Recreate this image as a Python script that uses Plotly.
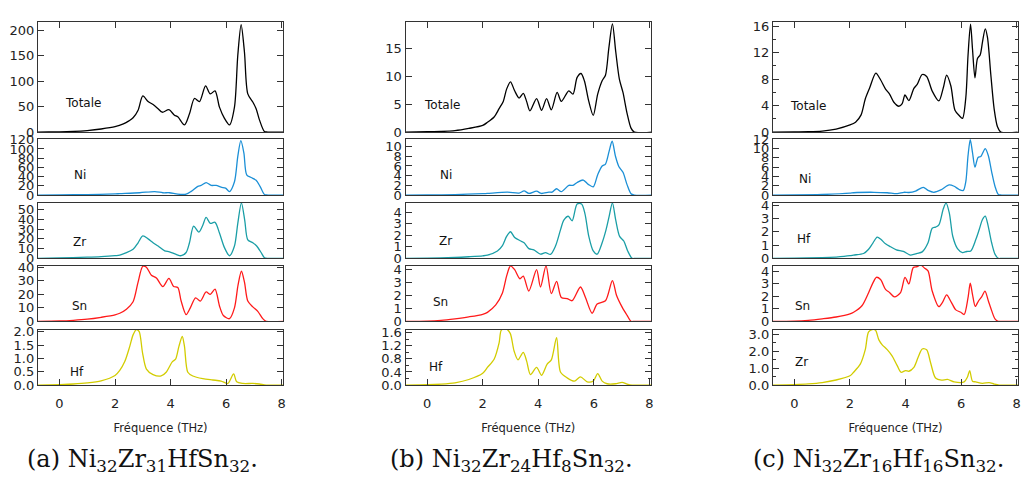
import plotly.graph_objects as go
from plotly.subplots import make_subplots

# ---- (a) Ni32Zr31HfSn32 ----
a_tot_x = [-0.8, -0.4, 0, 0.5, 1.0, 1.5, 2.0, 2.3, 2.5, 2.65, 2.83, 3.0, 3.19, 3.37, 3.55, 3.7, 3.94, 4.14, 4.26, 4.5, 4.68, 4.86, 5.04, 5.26, 5.43, 5.6, 5.76, 5.94, 6.12, 6.3, 6.42, 6.54, 6.66, 6.78, 6.96, 7.08, 7.2, 7.38, 7.5, 8.1]
a_tot_y = [0, 0.1, 0.3, 1.2, 3, 6, 10.5, 16, 22, 28, 43, 71, 60, 54, 46, 39, 44, 33, 30, 14, 36, 66, 60, 91, 75, 81, 49, 27, 14, 49, 151, 211, 157, 75, 59, 46, 24, 1, 0, 0]
a_ni_x = [-0.8, 0, 1.0, 2.0, 2.17, 2.89, 3.43, 3.72, 3.96, 4.26, 4.56, 4.74, 4.98, 5.1, 5.28, 5.46, 5.64, 5.82, 5.98, 6.12, 6.3, 6.42, 6.53, 6.64, 6.74, 6.9, 7.08, 7.22, 7.38, 7.5, 8.1]
a_ni_y = [0, 0.4, 1.0, 2.5, 3, 5, 7.6, 5, 5, 2, 2, 8, 19, 21, 27, 21, 21, 17, 15, 7.6, 29, 84, 118, 91, 44, 38, 32, 19, 1.4, 0, 0]
a_zr_x = [-0.8, 0, 1.0, 1.5, 2.0, 2.17, 2.65, 2.83, 3.0, 3.19, 3.37, 3.55, 3.79, 3.96, 4.2, 4.38, 4.56, 4.68, 4.83, 5.02, 5.16, 5.28, 5.43, 5.6, 5.76, 5.94, 6.12, 6.3, 6.42, 6.55, 6.67, 6.78, 6.96, 7.1, 7.26, 7.38, 7.5, 8.1]
a_zr_y = [0, 0.4, 1.2, 1.8, 2.8, 3.3, 9.3, 16, 23, 20, 16, 12.7, 7.7, 6.7, 4, 2.7, 6, 16, 33, 27, 34, 42, 36, 37, 26, 11, 2.7, 12.7, 36, 57, 39, 19, 16, 12.7, 6, 0.7, 0, 0]
a_sn_x = [-0.8, 0, 0.5, 1.0, 1.5, 2.0, 2.17, 2.41, 2.65, 2.83, 3.0, 3.13, 3.31, 3.49, 3.72, 3.94, 4.11, 4.26, 4.38, 4.56, 4.71, 4.9, 5.07, 5.28, 5.43, 5.6, 5.76, 5.9, 6.12, 6.3, 6.43, 6.55, 6.66, 6.78, 6.96, 7.14, 7.32, 7.44, 8.1]
a_sn_y = [0, 0.3, 0.8, 1.6, 3.0, 4.8, 6, 9, 14.5, 29, 40.7, 40, 34, 32, 25.7, 31.7, 25.7, 25, 15, 5, 10, 17.4, 15, 21.7, 20, 23.8, 11.4, 4.3, 2, 10, 27, 37, 29, 15, 10.7, 7.4, 2, 0, 0]
a_hf_x = [-0.8, 0, 0.5, 1.0, 1.5, 2.0, 2.17, 2.35, 2.53, 2.65, 2.77, 2.87, 2.99, 3.13, 3.37, 3.66, 3.84, 4.06, 4.18, 4.3, 4.42, 4.5, 4.62, 4.8, 5.16, 5.52, 5.82, 6.06, 6.27, 6.38, 6.6, 6.96, 7.2, 7.44, 8.1]
a_hf_y = [0, 0.02, 0.04, 0.08, 0.16, 0.36, 0.55, 0.88, 1.45, 1.88, 2.08, 2.0, 1.21, 0.6, 0.39, 0.34, 0.48, 0.87, 0.97, 1.45, 1.82, 1.45, 0.48, 0.34, 0.24, 0.19, 0.15, 0.06, 0.42, 0.12, 0.06, 0.06, 0.04, 0, 0]

# ---- (b) Ni32Zr24Hf8Sn32 ----
b_tot_x = [-0.8, 0, 0.5, 1.0, 1.5, 2.0, 2.17, 2.41, 2.59, 2.74, 2.86, 3.0, 3.15, 3.31, 3.46, 3.58, 3.7, 3.94, 4.12, 4.3, 4.47, 4.68, 4.83, 5.1, 5.25, 5.4, 5.54, 5.66, 5.82, 5.98, 6.14, 6.3, 6.42, 6.54, 6.67, 6.79, 6.92, 7.05, 7.2, 7.34, 7.46, 8.1]
b_tot_y = [0, 0.05, 0.1, 0.25, 0.65, 1.2, 1.75, 2.7, 4.2, 5.5, 7.7, 9.0, 7.4, 6.1, 6.95, 5.5, 3.8, 6.0, 3.9, 6.0, 4.0, 7.1, 5.5, 7.4, 6.8, 9.8, 10.5, 9.2, 5.5, 3.0, 6.8, 9.2, 10.2, 15, 19.4, 14.4, 9.5, 7.1, 3.3, 0.7, 0, 0]
b_ni_x = [-0.8, 0, 1.0, 2.0, 2.17, 2.89, 3.31, 3.49, 3.66, 3.94, 4.11, 4.38, 4.5, 4.66, 4.83, 5.1, 5.25, 5.4, 5.62, 5.8, 5.98, 6.14, 6.3, 6.42, 6.55, 6.66, 6.78, 6.9, 7.05, 7.2, 7.34, 7.46, 8.1]
b_ni_y = [0, 0.02, 0.1, 0.28, 0.33, 0.6, 0.4, 0.85, 0.33, 0.8, 0.33, 0.6, 0.6, 1.3, 0.7, 2.0, 2.0, 2.6, 3.1, 2.2, 1.7, 4.2, 6.0, 6.4, 9.0, 11.1, 8.0, 5.9, 4.7, 2.1, 0.26, 0, 0]
b_zr_x = [-0.8, 0, 1.0, 1.5, 2.0, 2.17, 2.53, 2.71, 2.86, 3.0, 3.15, 3.37, 3.49, 3.66, 3.84, 4.08, 4.26, 4.44, 4.62, 4.8, 4.92, 5.08, 5.22, 5.4, 5.56, 5.68, 5.82, 5.98, 6.12, 6.3, 6.44, 6.55, 6.67, 6.79, 6.93, 7.08, 7.22, 7.38, 7.5, 8.1]
b_zr_y = [0, 0.02, 0.08, 0.14, 0.22, 0.28, 0.64, 1.1, 1.9, 2.3, 1.8, 1.5, 1.35, 0.84, 0.73, 0.36, 0.5, 0.34, 1.06, 2.46, 3.3, 3.64, 3.25, 4.7, 4.7, 3.87, 1.9, 0.64, 0.36, 1.35, 2.46, 3.6, 4.8, 3.3, 1.9, 1.5, 0.64, 0, 0, 0]
b_sn_x = [-0.8, 0, 0.5, 1.0, 1.5, 2.0, 2.17, 2.47, 2.71, 2.86, 3.0, 3.15, 3.34, 3.46, 3.66, 3.94, 4.08, 4.28, 4.47, 4.66, 4.83, 5.04, 5.22, 5.52, 5.7, 5.94, 6.12, 6.42, 6.67, 6.82, 7.02, 7.2, 7.34, 7.46, 8.1]
b_sn_y = [0, 0.02, 0.08, 0.2, 0.35, 0.55, 0.7, 1.27, 2.2, 3.5, 4.3, 4.0, 3.3, 3.5, 2.35, 4.0, 2.66, 4.3, 2.15, 3.1, 1.85, 1.77, 1.6, 2.66, 1.85, 0.63, 1.34, 1.6, 3.16, 2.0, 1.1, 0.46, 0, 0, 0]
b_hf_x = [-0.8, 0, 0.5, 1.0, 1.5, 2.0, 2.17, 2.41, 2.59, 2.67, 2.83, 2.99, 3.13, 3.27, 3.46, 3.58, 3.72, 3.94, 4.12, 4.32, 4.47, 4.66, 4.8, 5.04, 5.3, 5.52, 5.76, 5.98, 6.14, 6.3, 6.48, 6.78, 7.02, 7.2, 7.38, 8.1]
b_hf_y = [0, 0.01, 0.03, 0.07, 0.17, 0.36, 0.54, 0.79, 1.29, 1.68, 1.73, 1.58, 1.04, 0.77, 1.0, 0.74, 0.32, 0.54, 0.3, 0.64, 0.77, 1.45, 0.4, 0.22, 0.12, 0.25, 0.1, 0.12, 0.35, 0.12, 0.04, 0.04, 0.08, 0.03, 0, 0]

# ---- (c) Ni32Zr16Hf16Sn32 ----
c_tot_x = [-0.8, 0, 0.5, 1.0, 1.5, 2.0, 2.2, 2.4, 2.55, 2.71, 2.93, 3.1, 3.28, 3.43, 3.58, 3.76, 3.88, 3.98, 4.12, 4.3, 4.42, 4.6, 4.76, 4.96, 5.2, 5.36, 5.48, 5.63, 5.78, 5.93, 6.05, 6.17, 6.25, 6.34, 6.41, 6.5, 6.59, 6.69, 6.77, 6.87, 6.95, 7.07, 7.19, 7.31, 7.43, 8.1]
c_tot_y = [0, 0.03, 0.05, 0.15, 0.45, 1.07, 1.5, 2.6, 5.0, 6.7, 8.9, 7.9, 6.5, 5.7, 4.5, 3.9, 4.3, 5.6, 4.75, 6.6, 7.2, 8.7, 8.4, 6.2, 4.7, 6.7, 8.6, 7.0, 3.3, 2.5, 2.06, 5.2, 11.6, 16.3, 12.6, 8.2, 11.1, 11.7, 13.6, 15.6, 14.3, 8.7, 3.5, 0.8, 0, 0]
c_ni_x = [-0.8, 0, 1.0, 2.0, 2.13, 2.86, 3.34, 3.7, 3.94, 4.12, 4.36, 4.64, 4.81, 5.02, 5.27, 5.57, 5.75, 5.93, 6.08, 6.17, 6.25, 6.33, 6.41, 6.5, 6.61, 6.71, 6.87, 6.98, 7.1, 7.22, 7.34, 7.46, 8.1]
c_ni_y = [0, 0.02, 0.12, 0.4, 0.5, 0.6, 0.5, 0.3, 0.6, 0.55, 0.85, 1.67, 1.0, 0.6, 1.1, 2.2, 1.9, 1.2, 1.0, 2.9, 8.5, 11.9, 9.2, 6.0, 8.1, 8.3, 10.0, 8.5, 5.0, 1.9, 0.14, 0, 0]
c_hf_x = [-0.8, 0, 1.0, 1.5, 2.0, 2.13, 2.49, 2.67, 2.83, 2.98, 3.12, 3.28, 3.46, 3.67, 3.92, 4.18, 4.42, 4.6, 4.81, 4.96, 5.08, 5.2, 5.36, 5.46, 5.58, 5.7, 5.87, 6.05, 6.2, 6.35, 6.53, 6.65, 6.77, 6.87, 6.98, 7.1, 7.22, 7.34, 7.46, 8.1]
c_hf_y = [0, 0.01, 0.05, 0.1, 0.2, 0.25, 0.37, 0.69, 1.18, 1.6, 1.42, 1.1, 0.88, 0.64, 0.52, 0.25, 0.37, 0.49, 1.18, 2.28, 2.36, 2.53, 3.75, 4.2, 3.39, 1.67, 0.74, 0.44, 0.52, 0.56, 1.42, 2.16, 2.94, 3.2, 2.4, 1.18, 0.32, 0, 0, 0]
c_sn_x = [-0.8, 0, 0.5, 1.0, 1.5, 2.0, 2.13, 2.43, 2.67, 2.83, 2.95, 3.1, 3.28, 3.43, 3.6, 3.82, 3.98, 4.12, 4.28, 4.42, 4.54, 4.69, 4.81, 4.96, 5.2, 5.33, 5.48, 5.65, 5.81, 5.99, 6.11, 6.25, 6.33, 6.41, 6.51, 6.63, 6.74, 6.86, 6.98, 7.1, 7.22, 7.34, 7.46, 8.1]
c_sn_y = [0, 0.02, 0.08, 0.2, 0.35, 0.6, 0.73, 1.25, 2.3, 3.1, 3.53, 3.35, 2.56, 2.3, 1.96, 2.3, 3.53, 3.0, 4.31, 4.39, 4.52, 4.26, 4.05, 2.43, 1.18, 1.52, 2.12, 1.52, 0.92, 0.73, 0.55, 1.9, 3.06, 2.17, 1.2, 1.65, 1.96, 2.43, 1.65, 0.86, 0.2, 0, 0, 0]
c_zr_x = [-0.8, 0, 0.5, 1.0, 1.5, 2.0, 2.13, 2.37, 2.55, 2.67, 2.83, 2.92, 3.04, 3.16, 3.34, 3.52, 3.7, 3.84, 4.0, 4.12, 4.3, 4.45, 4.6, 4.76, 4.9, 5.08, 5.29, 5.51, 5.75, 6.11, 6.23, 6.31, 6.41, 6.53, 6.77, 7.01, 7.19, 7.37, 8.1]
c_zr_y = [0, 0.03, 0.07, 0.15, 0.3, 0.55, 0.76, 1.24, 2.1, 3.15, 3.3, 3.25, 2.68, 2.39, 2.1, 1.72, 1.15, 0.76, 0.86, 0.82, 1.05, 1.63, 2.14, 2.1, 1.34, 0.42, 0.29, 0.34, 0.19, 0.19, 0.48, 0.86, 0.23, 0.19, 0.1, 0.15, 0.06, 0, 0]

labels_a = ["Totale", "Ni", "Zr", "Sn", "Hf"]
labels_b = ["Totale", "Ni", "Zr", "Sn", "Hf"]
labels_c = ["Totale", "Ni", "Hf", "Sn", "Zr"]
captions = ["(a) Ni<sub>32</sub>Zr<sub>31</sub>HfSn<sub>32</sub>.",
            "(b) Ni<sub>32</sub>Zr<sub>24</sub>Hf<sub>8</sub>Sn<sub>32</sub>.",
            "(c) Ni<sub>32</sub>Zr<sub>16</sub>Hf<sub>16</sub>Sn<sub>32</sub>."]

colors = ["#000000", "#1b8fd6", "#1a9ea6", "#ff1a1a", "#d2cc00"]

curves = [
    [(a_tot_x, a_tot_y), (a_ni_x, a_ni_y), (a_zr_x, a_zr_y), (a_sn_x, a_sn_y), (a_hf_x, a_hf_y)],
    [(b_tot_x, b_tot_y), (b_ni_x, b_ni_y), (b_zr_x, b_zr_y), (b_sn_x, b_sn_y), (b_hf_x, b_hf_y)],
    [(c_tot_x, c_tot_y), (c_ni_x, c_ni_y), (c_hf_x, c_hf_y), (c_sn_x, c_sn_y), (c_zr_x, c_zr_y)],
]
labels = [labels_a, labels_b, labels_c]

# y ranges / tick steps / minor steps per panel
yranges = [
    [(216, 50, None), (122, 20, None), (57, 10, None), (41, 10, None), (2.07, 0.5, None)],
    [(19.7, 5, None), (11.6, 2, None), (4.8, 1, None), (4.3, 1, None), (1.69, 0.4, 0.2)],
    [(16.6, 4, 2), (12.1, 2, None), (4.2, 1, None), (4.45, 1, None), (3.28, 1.0, 0.5)],
]

# label positions (x in THz, y as fraction of panel height)
label_pos = [
    [(0.84, 0.265), (0.73, 0.36), (0.71, 0.30), (0.73, 0.28), (0.62, 0.23)],
    [(0.55, 0.247), (0.67, 0.36), (0.65, 0.31), (0.47, 0.34), (0.30, 0.32)],
    [(0.48, 0.238), (0.39, 0.28), (0.33, 0.34), (0.28, 0.28), (0.26, 0.41)],
]

W, H = 1021, 490
xdoms = [(37.9, 283.9), (406.3, 652.3), (774.3, 1020.3)]
ydoms = [(15.7, 129), (136, 194), (202, 259.3), (267, 324.3), (333, 390)]

fig = make_subplots(rows=5, cols=3)

font_sans = "DejaVu Sans"
axcol = "#333333"

for c in range(3):
    for r in range(5):
        xs, ys = curves[c][r]
        fig.add_trace(go.Scatter(x=xs, y=ys, mode="lines",
                                 line=dict(color=colors[r], width=1.3, shape="spline", smoothing=0.8),
                                 showlegend=False, hoverinfo="skip"),
                      row=r + 1, col=c + 1)
        idx = r * 3 + c + 1
        xa = "xaxis" if idx == 1 else f"xaxis{idx}"
        ya = "yaxis" if idx == 1 else f"yaxis{idx}"
        x0, x1 = xdoms[c]
        y0, y1 = ydoms[r]
        xcfg = dict(domain=[x0 / W, x1 / W], range=[-0.78, 8.06], showgrid=False, zeroline=False,
                    showline=True, linecolor=axcol, linewidth=1, mirror=True,
                    tickvals=[0, 2, 4, 6, 8], tickfont=dict(family=font_sans, size=13, color="#222"))
        if r == 0:
            xcfg.update(side="top", ticks="inside", ticklen=6, tickcolor=axcol, showticklabels=False)
        elif r == 4:
            xcfg.update(ticks="inside", ticklen=6, tickcolor=axcol, showticklabels=True,
                        ticklabelstandoff=6,
                        title=dict(text="Fréquence (THz)", standoff=14,
                                   font=dict(family=font_sans, size=11.5, color="#222")))
        else:
            xcfg.update(ticks="", showticklabels=False)
        top, dt, minor = yranges[c][r]
        ycfg = dict(domain=[1 - y1 / H, 1 - y0 / H], range=[0, top], showgrid=False, zeroline=False,
                    showline=True, linecolor=axcol, linewidth=1, mirror="ticks",
                    ticks="inside", ticklen=6, tickcolor=axcol, dtick=dt, tick0=0,
                    tickfont=dict(family=font_sans, size=13, color="#222"))
        if r == 4:
            ycfg["tickformat"] = ".1f"
        if minor:
            ycfg["minor"] = dict(dtick=minor, tick0=0, ticks="inside", ticklen=3, tickcolor=axcol)
        fig.layout[xa].update(xcfg)
        fig.layout[ya].update(ycfg)

        lx, ly = label_pos[c][r]
        xref = "x" if idx == 1 else f"x{idx}"
        yref = ("y" if idx == 1 else f"y{idx}") + " domain"
        fig.add_annotation(x=lx, y=ly, xref=xref, yref=yref, text=labels[c][r], showarrow=False,
                           xanchor="center", yanchor="middle",
                           font=dict(family=font_sans, size=12, color="#111"))

cap_x = [143, 513, 880]
for i in range(3):
    fig.add_annotation(x=cap_x[i] / W, y=1 - 468 / H, xref="paper", yref="paper", text=captions[i],
                       showarrow=False, xanchor="center", yanchor="middle",
                       font=dict(family="DejaVu Serif", size=24, color="#111"))

fig.update_layout(width=W, height=H, margin=dict(l=0, r=0, t=0, b=0),
                  paper_bgcolor="white", plot_bgcolor="white")

fig.write_html("out.html", config={"displayModeBar": False},
               post_script="document.body.style.margin='0px';")
